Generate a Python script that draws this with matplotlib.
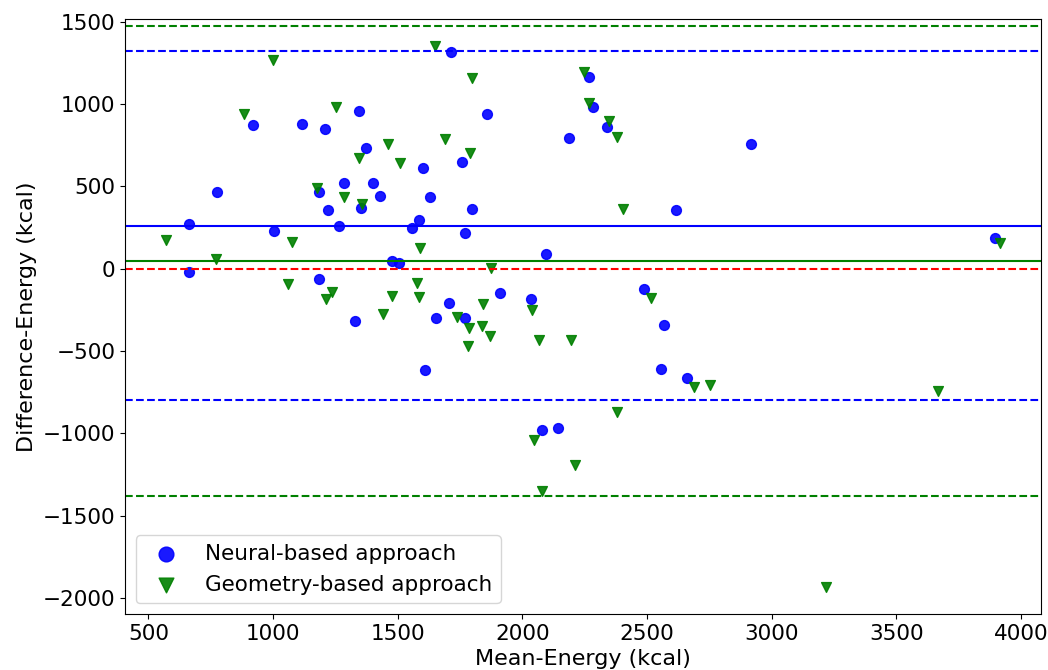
import numpy as np
import matplotlib
matplotlib.use("Agg")
import matplotlib.pyplot as plt

plt.rcParams["font.size"] = 15.5
plt.rcParams["axes.labelsize"] = 16

# Neural-based approach: mean energy vs difference energy
neural_mean = [662, 662, 776, 919, 1005, 1114, 1207, 1346, 1374, 1185,
               1284, 1401, 1427, 1221, 1351, 1266, 1603, 1628, 1585, 1556,
               1476, 1505, 1185, 1715, 1858, 1758, 1797, 1768, 2095, 2185,
               2267, 2285, 2339, 2615, 2489, 1909, 2036, 1707, 1330, 1609,
               1652, 1768, 2568, 2554, 2661, 2079, 2143, 3895, 2916]
neural_diff = [270, -18, 468, 873, 229, 879, 847, 960, 731, 464,
               522, 522, 443, 357, 365, 259, 608, 437, 296, 245,
               49, 36, -63, 1318, 942, 646, 361, 219, 87, 796,
               1163, 984, 857, 357, -125, -150, -182, -208, -320, -615,
               -301, -301, -344, -609, -666, -982, -966, 186, 755]

# Geometry-based approach
geom_mean = [571, 770, 999, 885, 1074, 1061, 1252, 1176, 1286, 1358,
             1343, 1462, 1508, 1588, 1577, 1584, 1478, 1238, 1212, 1651,
             1796, 2249, 2267, 2346, 2380, 1688, 1788, 2403, 1874, 2516,
             1842, 2039, 1441, 1737, 1784, 1780, 1838, 1868, 2068, 2194,
             2688, 2752, 2380, 2045, 2212, 2077, 3914, 3667, 3218]
geom_diff = [174, 59, 1264, 940, 164, -92, 982, 488, 436, 393,
             674, 756, 640, 126, -85, -170, -166, -140, -182, 1353,
             1157, 1197, 1005, 899, 798, 786, 705, 361, 2, -176,
             -214, -252, -277, -293, -358, -468, -350, -411, -433, -433,
             -717, -705, -871, -1039, -1193, -1352, 155, -741, -1934]

# bias and limits of agreement
neural_bias, neural_loa = 259, 1060
geom_bias, geom_loa = 46, 1430

fig = plt.figure(figsize=(10.48, 6.70), dpi=100)
ax = fig.add_axes([0.1193, 0.0836, 0.874, 0.8873])

ax.scatter(neural_mean, neural_diff, s=50, color="blue", alpha=0.9,
           label="Neural-based approach")
ax.scatter(geom_mean, geom_diff, s=50, marker="v", color="green", alpha=0.9,
           label="Geometry-based approach")

ax.axhline(neural_bias, color="blue", lw=1.5)
ax.axhline(neural_bias + neural_loa, color="blue", ls="--", lw=1.5)
ax.axhline(neural_bias - neural_loa, color="blue", ls="--", lw=1.5)
ax.axhline(geom_bias, color="green", lw=1.5)
ax.axhline(geom_bias + geom_loa, color="green", ls="--", lw=1.5)
ax.axhline(geom_bias - geom_loa, color="green", ls="--", lw=1.5)
ax.axhline(0, color="red", ls="--", lw=1.5)

ax.set_xlim(406, 4080)
ax.set_ylim(-2098, 1513)
ax.set_xlabel("Mean-Energy (kcal)")
ax.set_ylabel("Difference-Energy (kcal)")
ax.legend(loc="lower left", markerscale=1.5)

fig.savefig("out.png", dpi=100)
